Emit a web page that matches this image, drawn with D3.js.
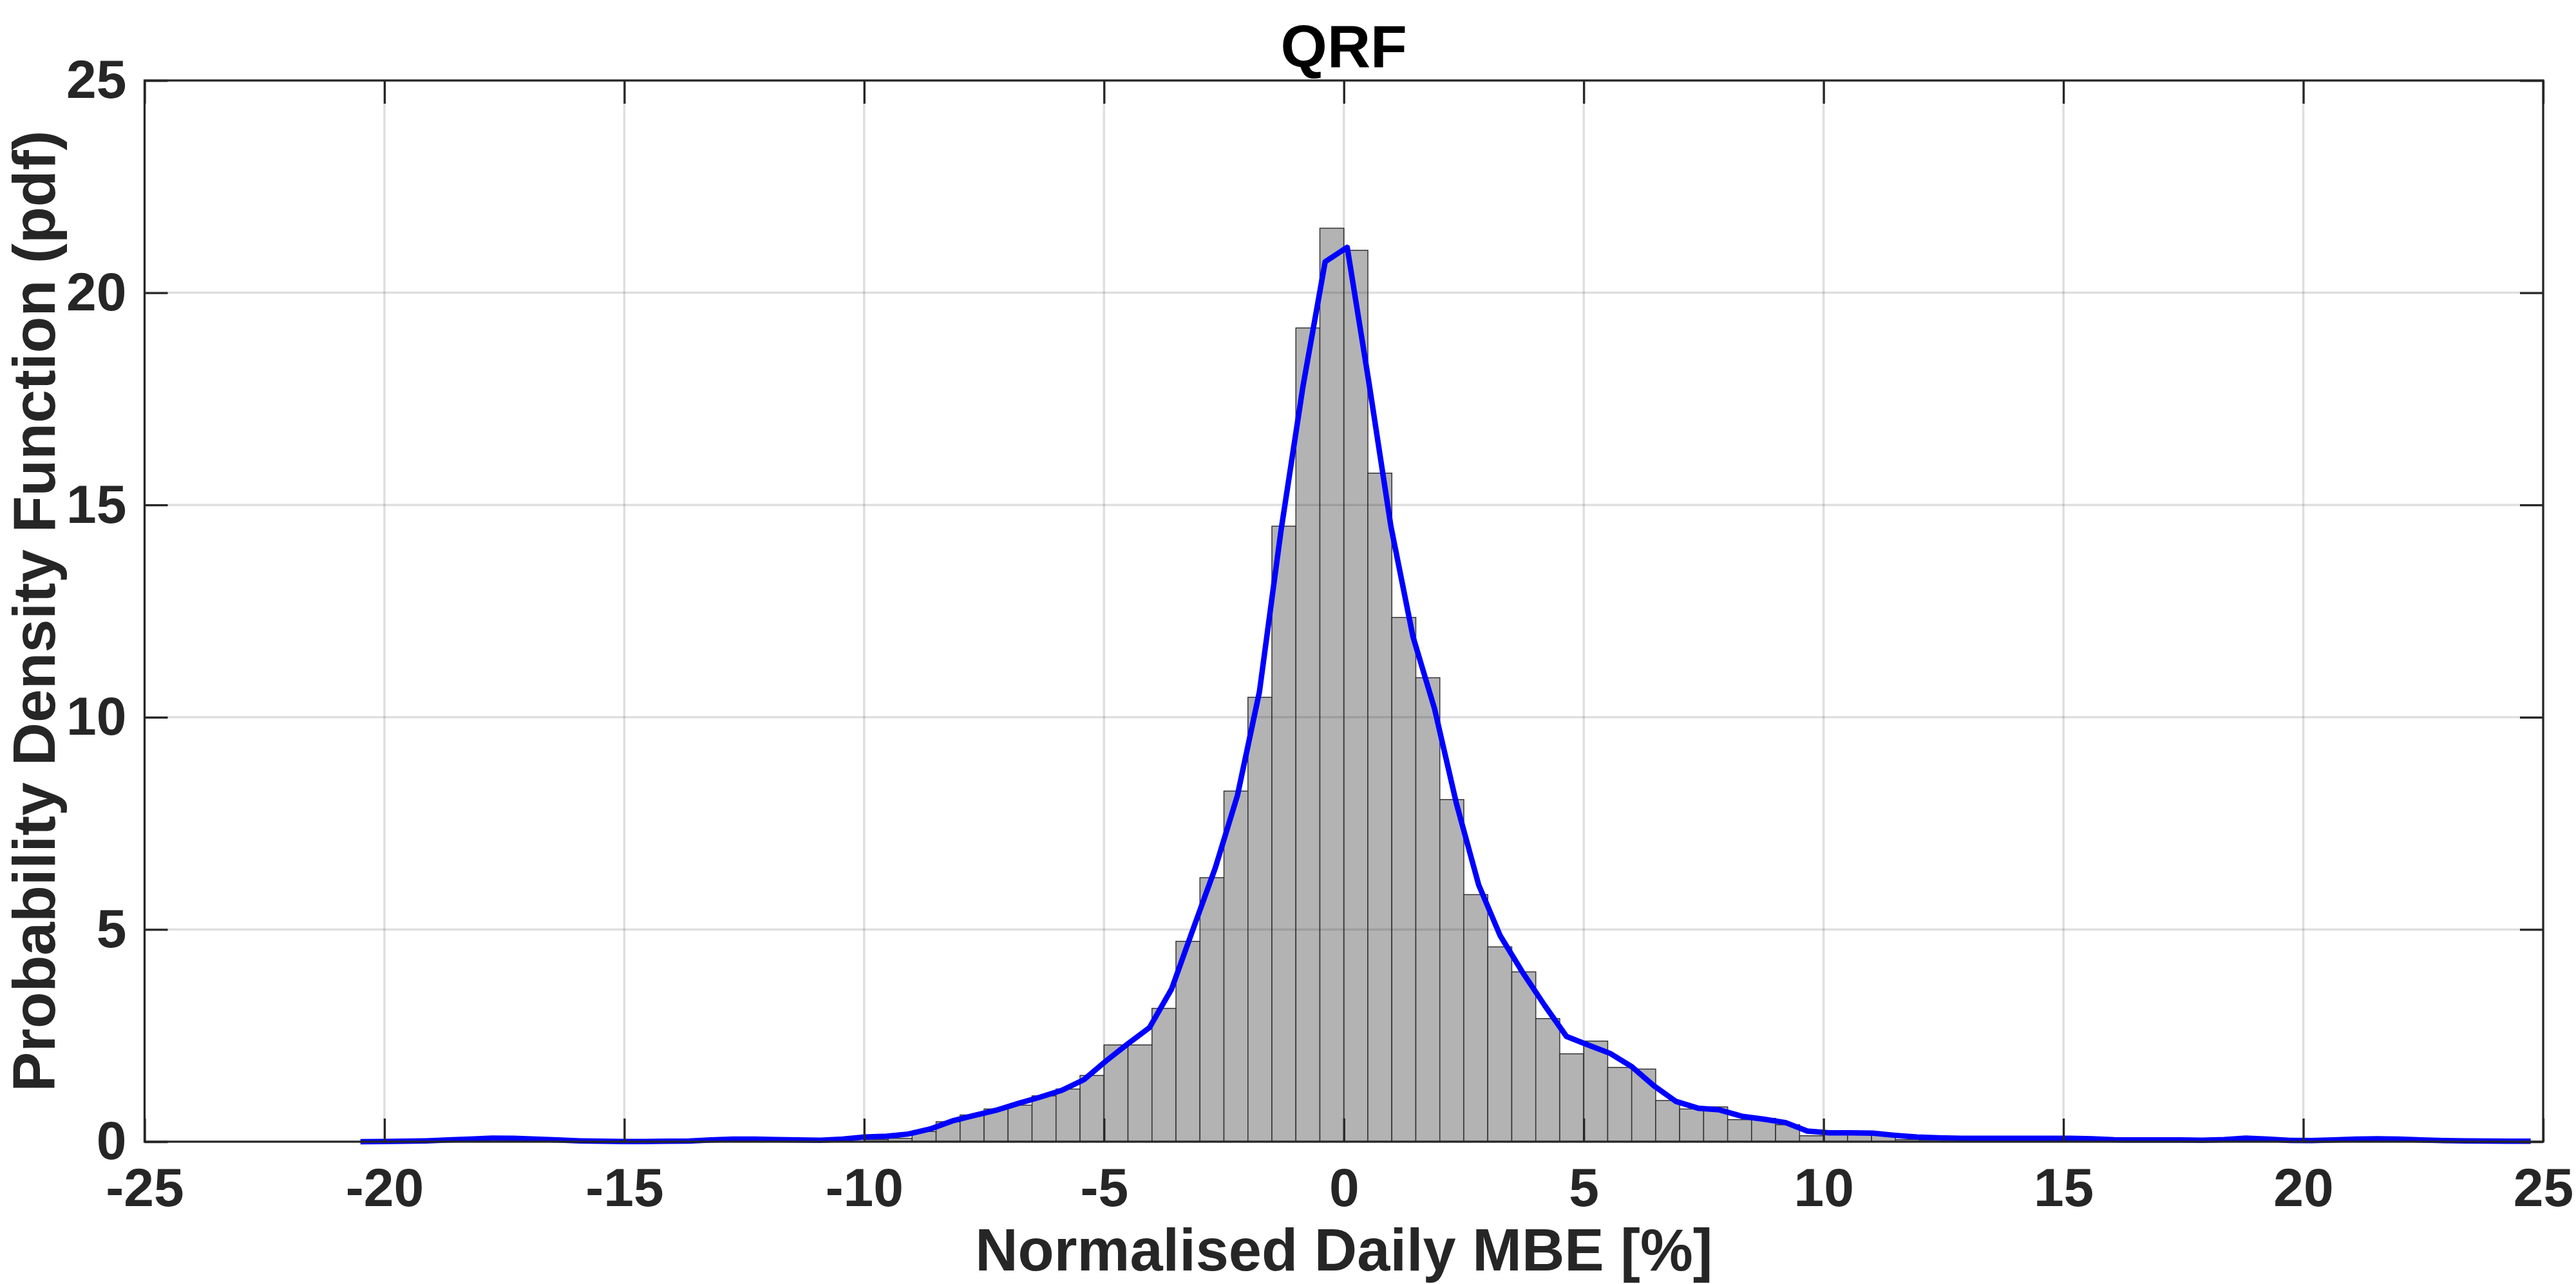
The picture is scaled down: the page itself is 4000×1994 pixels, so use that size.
<!DOCTYPE html>
<html>
<head>
<meta charset="utf-8">
<script src="https://cdn.jsdelivr.net/npm/d3@7"></script>
<style>
    body { margin: 0; background: #fff; }
    text { font-family: "Liberation Sans", Arial, sans-serif; font-weight: bold; }
</style>
</head>
<body>
<div id="container"></div>
<script>
const dims = { width: 4000, height: 1994 };
const plot = { left: 224.5, right: 3949, top: 125, bottom: 1773 };

// histogram (pdf normalised), bins of 0.5 starting at binLeft
const binWidth = 0.5;
const binLeft = [-10, -9.5, -9, -8.5, -8, -7.5, -7, -6.5, -6, -5.5,
    -5, -4.5, -4, -3.5, -3, -2.5, -2, -1.5, -1, -0.5,
    0, 0.5, 1, 1.5, 2, 2.5, 3, 3.5, 4, 4.5,
    5, 5.5, 6, 6.5, 7, 7.5, 8, 8.5, 9, 9.5,
    10, 10.5, 11, 11.5, 12, 12.5, 13, 13.5, 14, 14.5, 15];
const binDensity = [0.05, 0.08, 0.24, 0.47, 0.63, 0.77, 0.86, 1.08, 1.24, 1.56,
    2.28, 2.28, 3.14, 4.72, 6.22, 8.26, 10.47, 14.50, 19.17, 21.52,
    21.00, 15.75, 12.35, 10.93, 8.06, 5.82, 4.59, 4.00, 2.90, 2.07,
    2.37, 1.75, 1.71, 0.97, 0.77, 0.82, 0.52, 0.55, 0.40, 0.14,
    0.20, 0.20, 0.19, 0.05, 0.04, 0.04, 0.04, 0.04, 0.04, 0.04, 0.03];

// kernel density estimate (blue curve)
const kdeX = [-20.50, -20.04, -19.59, -19.13, -18.67, -18.22, -17.76, -17.30, -16.84, -16.39,
    -15.93, -15.47, -15.02, -14.56, -14.10, -13.65, -13.19, -12.73, -12.27, -11.82,
    -11.36, -10.90, -10.45, -9.99, -9.53, -9.08, -8.62, -8.16, -7.70, -7.25,
    -6.79, -6.33, -5.88, -5.42, -4.96, -4.51, -4.05, -3.59, -3.13, -2.68,
    -2.22, -1.76, -1.31, -0.85, -0.39, 0.07, 0.52, 0.98, 1.44, 1.89,
    2.35, 2.81, 3.26, 3.72, 4.18, 4.64, 5.09, 5.55, 6.01, 6.46,
    6.92, 7.38, 7.83, 8.29, 8.75, 9.21, 9.66, 10.12, 10.58, 11.03,
    11.49, 11.95, 12.40, 12.86, 13.32, 13.78, 14.23, 14.69, 15.15, 15.60,
    16.06, 16.52, 16.97, 17.43, 17.89, 18.35, 18.80, 19.26, 19.72, 20.17,
    20.63, 21.09, 21.54, 22.00, 22.46, 22.92, 23.37, 23.83, 24.29, 24.74];
const kdeY = [0.00, 0.005, 0.01, 0.02, 0.04, 0.06, 0.085, 0.08, 0.06, 0.04,
    0.02, 0.01, 0.005, 0.005, 0.01, 0.015, 0.04, 0.06, 0.06, 0.05,
    0.04, 0.035, 0.06, 0.11, 0.13, 0.18, 0.30, 0.49, 0.62, 0.74,
    0.90, 1.05, 1.21, 1.46, 1.90, 2.30, 2.69, 3.60, 5.05, 6.45,
    8.15, 10.60, 14.40, 17.81, 20.73, 21.07, 17.90, 14.50, 11.90, 10.20,
    7.95, 6.05, 4.85, 4.00, 3.22, 2.48, 2.28, 2.08, 1.76, 1.32,
    0.95, 0.79, 0.75, 0.60, 0.53, 0.45, 0.25, 0.21, 0.21, 0.20,
    0.15, 0.11, 0.09, 0.08, 0.08, 0.08, 0.08, 0.08, 0.08, 0.07,
    0.045, 0.04, 0.04, 0.04, 0.035, 0.05, 0.085, 0.06, 0.03, 0.025,
    0.04, 0.06, 0.07, 0.06, 0.04, 0.025, 0.02, 0.015, 0.01, 0.01];

const xTicks = [-25, -20, -15, -10, -5, 0, 5, 10, 15, 20, 25];
const yTicks = [0, 5, 10, 15, 20, 25];

const axisColor = "#262626";
const tickLen = 36;

const x = d3.scaleLinear().domain([-25, 25]).range([plot.left, plot.right]);
const y = d3.scaleLinear().domain([0, 25]).range([plot.bottom, plot.top]);

const svg = d3.select("#container").append("svg")
    .attr("width", dims.width)
    .attr("height", dims.height)
    .style("display", "block");

// bars
svg.append("g").selectAll("rect")
    .data(binLeft.map((b, i) => ({ left: b, value: binDensity[i] })))
    .enter()
    .append("rect")
    .attr("x", d => x(d.left))
    .attr("width", d => x(d.left + binWidth) - x(d.left))
    .attr("y", d => y(d.value))
    .attr("height", d => y(0) - y(d.value))
    .attr("fill", "#b3b3b3")
    .attr("stroke", "#333")
    .attr("stroke-width", 1.5);

// grid (drawn translucent over the bars)
const grid = svg.append("g")
    .attr("stroke", "rgb(38,38,38)")
    .attr("stroke-opacity", 0.15)
    .attr("stroke-width", 3.5);
grid.selectAll(".vgrid")
    .data(xTicks.slice(1, -1))
    .enter()
    .append("line")
    .attr("x1", d => x(d)).attr("x2", d => x(d))
    .attr("y1", plot.top).attr("y2", plot.bottom);
grid.selectAll(".hgrid")
    .data(yTicks.slice(1, -1))
    .enter()
    .append("line")
    .attr("x1", plot.left).attr("x2", plot.right)
    .attr("y1", d => y(d)).attr("y2", d => y(d));

// kde line
const line = d3.line()
    .x(d => x(d[0]))
    .y(d => y(d[1]));
svg.append("path")
    .datum(kdeX.map((v, i) => [v, kdeY[i]]))
    .attr("d", line)
    .attr("fill", "none")
    .attr("stroke", "#0000ff")
    .attr("stroke-width", 8.5)
    .attr("stroke-linejoin", "round");

// axes, ticks pointing inwards
function styleAxis(g, showText) {
    g.select(".domain").remove();
    g.selectAll(".tick line")
        .attr("stroke", axisColor)
        .attr("stroke-width", 3.3);
    g.selectAll(".tick text")
        .attr("fill", axisColor)
        .style("font-size", "84px")
        .style("font-family", "'Liberation Sans', Arial, sans-serif")
        .style("font-weight", "bold");
    if (!showText) g.selectAll(".tick text").remove();
}

svg.append("g")
    .attr("transform", `translate(0,${plot.bottom})`)
    .call(d3.axisBottom(x).tickValues(xTicks).tickSizeInner(-tickLen).tickSizeOuter(0)
        .tickPadding(40).tickFormat(d => String(d)))
    .call(g => styleAxis(g, true));
svg.append("g")
    .attr("transform", `translate(0,${plot.top})`)
    .call(d3.axisTop(x).tickValues(xTicks).tickSizeInner(-tickLen).tickSizeOuter(0))
    .call(g => styleAxis(g, false));
svg.append("g")
    .attr("transform", `translate(${plot.left},0)`)
    .call(d3.axisLeft(y).tickValues(yTicks).tickSizeInner(-tickLen).tickSizeOuter(0)
        .tickPadding(28).tickFormat(d => String(d)))
    .call(g => styleAxis(g, true));
svg.append("g")
    .attr("transform", `translate(${plot.right},0)`)
    .call(d3.axisRight(y).tickValues(yTicks).tickSizeInner(-tickLen).tickSizeOuter(0))
    .call(g => styleAxis(g, false));

// box
svg.append("rect")
    .attr("x", plot.left)
    .attr("y", plot.top)
    .attr("width", plot.right - plot.left)
    .attr("height", plot.bottom - plot.top)
    .attr("fill", "none")
    .attr("stroke", axisColor)
    .attr("stroke-width", 3.3);

// labels
svg.append("text")
    .attr("x", (plot.left + plot.right) / 2)
    .attr("y", 104)
    .attr("text-anchor", "middle")
    .attr("fill", "#000")
    .style("font-size", "93px")
    .text("QRF");

svg.append("text")
    .attr("x", (plot.left + plot.right) / 2)
    .attr("y", 1973)
    .attr("text-anchor", "middle")
    .attr("fill", axisColor)
    .style("font-size", "92px")
    .text("Normalised Daily MBE [%]");

svg.append("text")
    .attr("transform", `translate(85,${(plot.top + plot.bottom) / 2}) rotate(-90)`)
    .attr("text-anchor", "middle")
    .attr("fill", axisColor)
    .style("font-size", "93px")
    .text("Probability Density Function (pdf)");
</script>
</body>
</html>
